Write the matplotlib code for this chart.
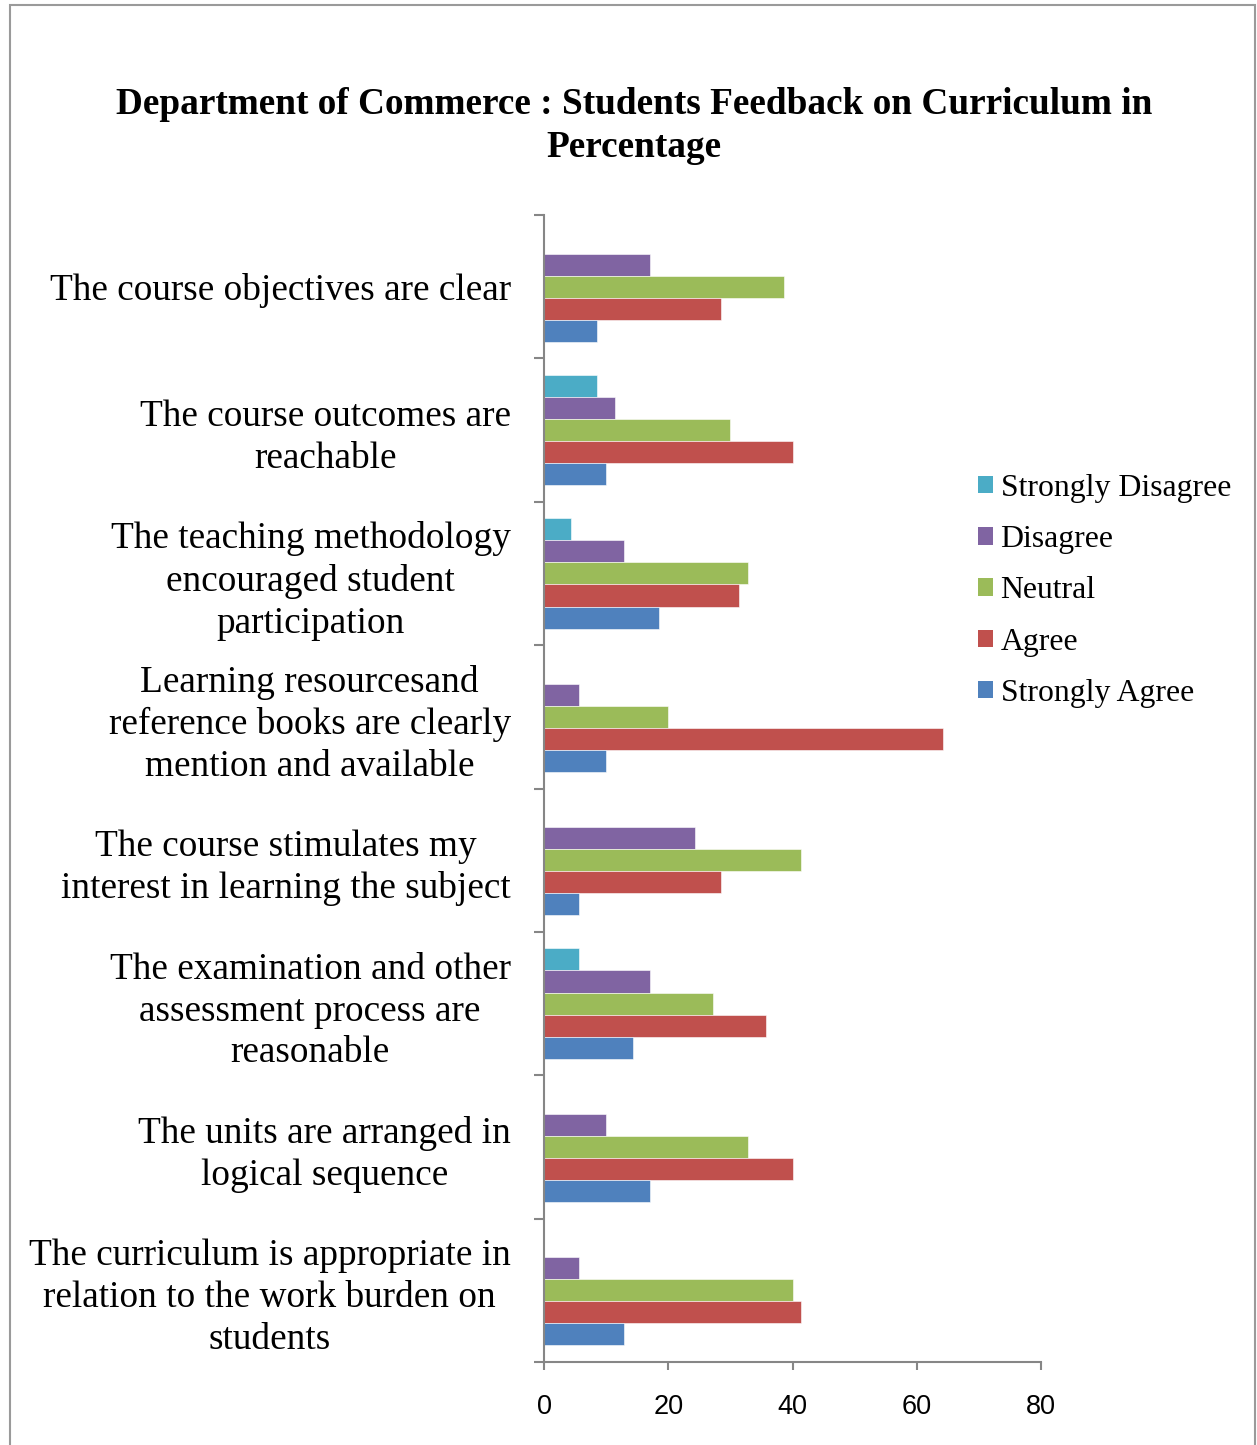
import matplotlib
matplotlib.use("Agg")
import matplotlib.pyplot as plt
from matplotlib.patches import Rectangle, Patch
import numpy as np

categories = [
    "The course objectives are clear",
    "The course outcomes are\nreachable",
    "The teaching methodology\nencouraged student\nparticipation",
    "Learning resourcesand\nreference books are clearly\nmention and available",
    "The course stimulates my\ninterest in learning the subject",
    "The examination and other\nassessment process are\nreasonable",
    "The units are arranged in\nlogical sequence",
    "The curriculum is appropriate in\nrelation to the work burden on\nstudents",
]
series_names = ["Strongly Disagree", "Disagree", "Neutral", "Agree", "Strongly Agree"]
strongly_disagree = [0, 8.57, 4.29, 0, 0, 5.71, 0, 0]
disagree = [17.14, 11.43, 12.86, 5.71, 24.29, 17.14, 10.0, 5.71]
neutral = [38.57, 30.0, 32.86, 20.0, 41.43, 27.14, 32.86, 40.0]
agree = [28.57, 40.0, 31.43, 64.29, 28.57, 35.71, 40.0, 41.43]
strongly_agree = [8.57, 10.0, 18.57, 10.0, 5.71, 14.29, 17.14, 12.86]
xticks = [0, 20, 40, 60, 80]
title = "Department of Commerce : Students Feedback on Curriculum in\nPercentage"

colors = ["#4BACC6", "#8064A2", "#9BBB59", "#C0504D", "#4F81BD"]
series = [strongly_disagree, disagree, neutral, agree, strongly_agree]

serif = ["Liberation Serif", "DejaVu Serif"]
gray = "#868686"

fig = plt.figure(figsize=(12.57, 14.45), dpi=100)
fig.patch.set_facecolor("white")
fig.add_artist(Rectangle((10/1257, -0.01), 1245/1257, 1 - 5/1445 + 0.01,
                         transform=fig.transFigure, fill=False,
                         edgecolor="#9a9a9a", linewidth=1.5))

ax = fig.add_axes([544/1257, 1 - 1362/1445, (1041-544)/1257, (1362-215)/1445])
n = len(categories)
h = 1 / 6.5
y = np.arange(n)
for j, (vals, c, name) in enumerate(zip(series, colors, series_names)):
    ax.barh(y + (j - 2) * h, vals, height=h, color=c, label=name,
            edgecolor="white", linewidth=0.4)

ax.set_xlim(0, 80)
ax.set_ylim(n - 0.5, -0.5)
ax.set_xticks(xticks)
ax.set_xticklabels([str(t) for t in xticks], family=["Liberation Sans"], fontsize=19.5)
ax.set_yticks(y)
ax.set_yticklabels(categories, family=serif, fontsize=26.8, ha="right",
                   multialignment="center", linespacing=1.28)
ax.set_yticks(np.arange(n + 1) - 0.5, minor=True)
ax.tick_params(axis="y", which="major", length=0, pad=24)
ax.tick_params(axis="y", which="minor", length=7, width=1.5, color=gray, direction="out")
ax.tick_params(axis="x", which="major", length=6, width=1.5, color=gray, direction="out", pad=17)
for s in ["top", "right"]:
    ax.spines[s].set_visible(False)
for s in ["left", "bottom"]:
    ax.spines[s].set_color(gray)
    ax.spines[s].set_linewidth(1.5)

fig.text(634/1257, 1 - 126/1445, title, ha="center", va="center",
         family=serif, fontsize=26.8, fontweight="bold", linespacing=1.3)

handles = [Patch(facecolor=c, label=nm) for c, nm in zip(colors, series_names)]
fig.legend(handles=handles, loc="center left", bbox_to_anchor=(949/1257, 1 - 591/1445),
           frameon=False, prop={"family": serif, "size": 22.9}, handlelength=0.47,
           handleheight=0.47, handletextpad=0.25, labelspacing=0.70)

fig.savefig("out.png", dpi=100, facecolor="white")
